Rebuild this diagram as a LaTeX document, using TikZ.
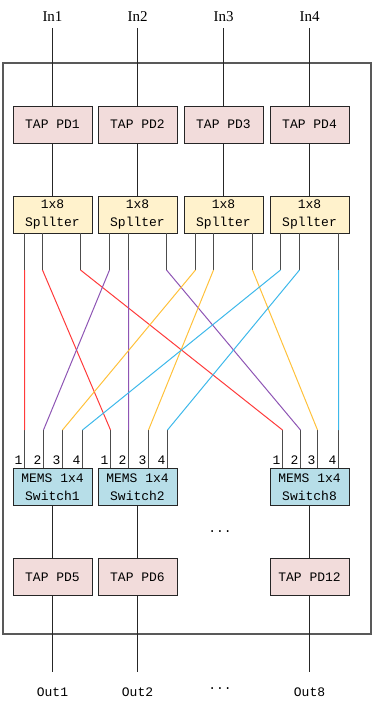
\documentclass[tikz,border=0pt]{standalone}
\usepackage{fontspec}
\setmainfont{Liberation Serif}
\setmonofont{Liberation Mono}
\usetikzlibrary{positioning}

\definecolor{tappink}{HTML}{F2DCDB}
\definecolor{splyellow}{HTML}{FFF2CC}
\definecolor{swblue}{HTML}{B7DEE8}
\definecolor{fred}{HTML}{FF3B3B}
\definecolor{fpurple}{HTML}{8E55B4}
\definecolor{fyellow}{HTML}{FFC13B}
\definecolor{fblue}{HTML}{3DB8EA}

\tikzset{
  box/.style={draw=black!85,line width=0.9pt,minimum width=79pt,minimum height=37pt,inner sep=0pt,
    font=\ttfamily\fontsize{13}{18}\selectfont,align=center},
  tapbox/.style={box,fill=tappink},
  splbox/.style={box,fill=splyellow},
  swbox/.style={box,fill=swblue},
  wire/.style={line width=0.9pt,black!85},
  stub/.style={line width=1pt,black!70},
  fiber/.style={line width=1pt},
  portnum/.style={font=\ttfamily\fontsize{13}{13}\selectfont,inner sep=0pt},
  inlab/.style={font=\fontsize{15}{15}\selectfont,inner sep=0pt},
  outlab/.style={font=\ttfamily\fontsize{13}{13}\selectfont,inner sep=0pt}
}

\begin{document}
\begin{tikzpicture}[x=1pt,y=-1pt]
\useasboundingbox (0,0) rectangle (374,708);

\draw[line width=1.2pt,black!65] (3,63) rectangle (371,634);

% inputs, taps and splitters
\foreach \i/\x in {1/52.5,2/137.5,3/223.5,4/309.5}{
  \node[inlab] (in\i) at (\x,17) {In\i};
  \node[tapbox] (tap\i) at (\x,124.5) {TAP PD\i};
  \node[splbox] (spl\i) at (\x,214.5) {1x8\\Spllter};
  \coordinate (inend\i) at (\x,28);
  \draw[wire] (inend\i) -- (tap\i);
  \draw[wire] (tap\i) -- (spl\i);
}

% splitter stubs
\foreach \i/\a/\b/\c in {1/24.5/42.5/80.5,2/109.5/128.5/166.5,3/195.5/213.5/252.5,4/280.5/299.5/338.5}{
  \coordinate (p\i a) at (\a,270);
  \coordinate (p\i b) at (\b,270);
  \coordinate (p\i c) at (\c,270);
  \draw[stub] (\a,233) -- (p\i a);
  \draw[stub] (\b,233) -- (p\i b);
  \draw[stub] (\c,233) -- (p\i c);
}

% switches, taps and outputs
\foreach \i/\x/\t/\o/\a/\b/\c/\d in {1/52.5/5/1/24.5/43.5/62.5/82.5,2/137.5/6/2/110.5/128.5/148.5/167.5,8/309.5/12/8/282.5/300.5/317.5/338.5}{
  \node[swbox] (sw\i) at (\x,487) {MEMS 1x4\\Switch\i};
  \node[tapbox] (tap\t) at (\x,577) {TAP PD\t};
  \node[outlab] (out\o) at (\x,692) {Out\o};
  \coordinate (outend\o) at (\x,672);
  \draw[wire] (sw\i) -- (tap\t);
  \draw[wire] (tap\t) -- (outend\o);
  \foreach \n/\p in {1/\a,2/\b,3/\c,4/\d}{
    \coordinate (q\i\n) at (\p,430);
    \draw[stub] (q\i\n) -- (\p,468);
    \node[portnum] at (\p-6,460) {\n};
  }
}
\node[outlab] (dots1) at (220,532) {...};
\node[outlab] (dots2) at (220,689) {...};

% fibres
\draw[fiber,fred] (p1a) -- (q11) (p1b) -- (q21) (p1c) -- (q81);
\draw[fiber,fpurple] (p2a) -- (q12) (p2b) -- (q22) (p2c) -- (q82);
\draw[fiber,fyellow] (p3a) -- (q13) (p3b) -- (q23) (p3c) -- (q83);
\draw[fiber,fblue] (p4a) -- (q14) (p4b) -- (q24) (p4c) -- (q84);

\end{tikzpicture}
\end{document}
